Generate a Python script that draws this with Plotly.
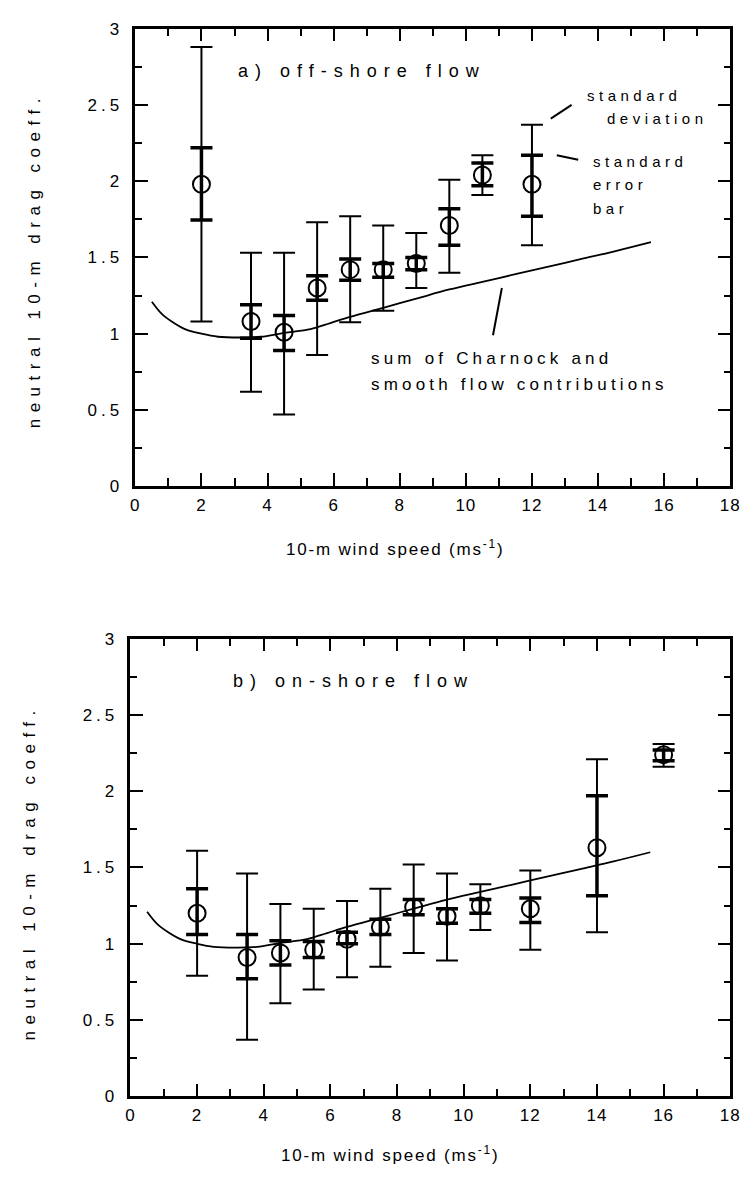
import plotly.graph_objects as go

# ---------------- data ----------------
# a) off-shore flow
u_off = [2, 3.5, 4.5, 5.5, 6.5, 7.5, 8.5, 9.5, 10.5, 12]
cd_off = [1.98, 1.08, 1.01, 1.30, 1.42, 1.42, 1.46, 1.71, 2.04, 1.98]
se_hi_off = [2.22, 1.19, 1.12, 1.38, 1.49, 1.46, 1.50, 1.82, 2.12, 2.17]
se_lo_off = [1.745, 0.97, 0.89, 1.22, 1.35, 1.37, 1.42, 1.58, 1.97, 1.77]
sd_hi_off = [2.88, 1.53, 1.53, 1.73, 1.77, 1.71, 1.66, 2.01, 2.17, 2.37]
sd_lo_off = [1.08, 0.62, 0.47, 0.86, 1.075, 1.15, 1.30, 1.40, 1.91, 1.58]

# b) on-shore flow
u_on = [2, 3.5, 4.5, 5.5, 6.5, 7.5, 8.5, 9.5, 10.5, 12, 14, 16]
cd_on = [1.20, 0.91, 0.94, 0.96, 1.03, 1.11, 1.24, 1.18, 1.25, 1.23, 1.63, 2.24]
se_hi_on = [1.36, 1.06, 1.02, 1.015, 1.075, 1.16, 1.29, 1.23, 1.29, 1.30, 1.97, 2.27]
se_lo_on = [1.06, 0.77, 0.86, 0.91, 1.00, 1.06, 1.19, 1.135, 1.20, 1.14, 1.315, 2.20]
sd_hi_on = [1.61, 1.46, 1.26, 1.23, 1.28, 1.36, 1.52, 1.46, 1.39, 1.48, 2.21, 2.31]
sd_lo_on = [0.79, 0.37, 0.61, 0.70, 0.78, 0.85, 0.94, 0.89, 1.09, 0.96, 1.075, 2.16]

# sum of Charnock and smooth flow contributions
u_curve = [0.5, 0.8, 1.1, 1.5, 2.0, 2.5, 3.2, 3.8, 4.5, 5.3, 5.9, 6.5,
           7.5, 8.5, 9.5, 10.5, 11.5, 12.5, 13.5, 14.5, 15.6]
cd_curve = [1.21, 1.13, 1.08, 1.03, 1.00, 0.98, 0.975, 0.98, 1.005, 1.03, 1.07, 1.11,
            1.17, 1.23, 1.29, 1.34, 1.39, 1.44, 1.49, 1.54, 1.60]

x_tick_vals = [0, 2, 4, 6, 8, 10, 12, 14, 16, 18]
y_tick_vals = [0, 0.5, 1, 1.5, 2, 2.5, 3]
y_tick_text = ["0", "0.5", "1", "1.5", "2", "2.5", "3"]

# ---------------- styling ----------------
W, H = 753, 1184
FONT = "Liberation Sans, Arial, Helvetica, sans-serif"


def spaced(s, px):
    return "<span style='letter-spacing:%spx'>%s</span>" % (px, s)


def px_x(p):
    return p / W


def px_y(p):
    return 1 - p / H


fig = go.Figure()


def add_panel(u, cd, se_hi, se_lo, sd_hi, sd_lo, xa, ya):
    # standard deviation bars (thin)
    fig.add_trace(go.Scatter(
        x=u, y=cd, mode="markers", xaxis=xa, yaxis=ya,
        marker=dict(size=1, color="rgba(0,0,0,0)"),
        error_y=dict(type="data", symmetric=False,
                     array=[h - c for h, c in zip(sd_hi, cd)],
                     arrayminus=[c - l for l, c in zip(sd_lo, cd)],
                     color="black", thickness=2, width=11),
        showlegend=False, hoverinfo="skip"))
    # standard error bars (bold) with the mean as an open circle
    fig.add_trace(go.Scatter(
        x=u, y=cd, mode="markers", xaxis=xa, yaxis=ya,
        marker=dict(symbol="circle-open", size=17, color="black",
                    line=dict(width=2, color="black")),
        error_y=dict(type="data", symmetric=False,
                     array=[h - c for h, c in zip(se_hi, cd)],
                     arrayminus=[c - l for l, c in zip(se_lo, cd)],
                     color="black", thickness=3.5, width=11),
        showlegend=False))
    # model curve
    fig.add_trace(go.Scatter(
        x=u_curve, y=cd_curve, mode="lines", xaxis=xa, yaxis=ya,
        line=dict(color="black", width=1.8, shape="spline"),
        showlegend=False))


add_panel(u_off, cd_off, se_hi_off, se_lo_off, sd_hi_off, sd_lo_off, "x", "y")
add_panel(u_on, cd_on, se_hi_on, se_lo_on, sd_hi_on, sd_lo_on, "x2", "y2")

xaxis_common = dict(
    range=[0, 18], tickvals=x_tick_vals,
    ticktext=[spaced(str(v), 1) for v in x_tick_vals],
    ticks="inside", ticklen=13, tickwidth=2, tickcolor="black",
    minor=dict(dtick=1, ticks="inside", ticklen=8, tickwidth=1.6, tickcolor="black"),
    showline=True, linewidth=2.5, linecolor="black", mirror="ticks",
    showgrid=False, zeroline=False, ticklabelstandoff=2,
    tickfont=dict(family=FONT, size=17, color="black"),
)
yaxis_common = dict(
    range=[0, 3], tickvals=y_tick_vals,
    ticktext=[spaced(t, 4) for t in y_tick_text],
    ticks="inside", ticklen=13, tickwidth=2, tickcolor="black",
    minor=dict(dtick=0.25, ticks="inside", ticklen=7, tickwidth=1.6, tickcolor="black"),
    showline=True, linewidth=2.5, linecolor="black", mirror="ticks",
    showgrid=False, zeroline=False, ticklabelstandoff=6,
    tickfont=dict(family=FONT, size=17, color="black"),
)

fig.update_layout(
    width=W, height=H,
    margin=dict(l=0, r=0, t=0, b=0),
    paper_bgcolor="white", plot_bgcolor="white",
    xaxis=dict(domain=[px_x(133), px_x(740)], anchor="y", **xaxis_common),
    yaxis=dict(domain=[px_y(485), px_y(20)], anchor="x", **yaxis_common),
    xaxis2=dict(domain=[px_x(128), px_x(740)], anchor="y2", **xaxis_common),
    yaxis2=dict(domain=[px_y(1105), px_y(640)], anchor="x2", **yaxis_common),
)

ann = []
# axis titles
ytitle = spaced("neutral 10-m drag coeff.", 6.5)
xtitle = spaced("10-m wind speed (ms<sup>-1</sup>)", 1.8)
for xc, yc in ((31, 255), (25, 878)):
    ann.append(dict(xref="paper", yref="paper", x=px_x(xc), y=px_y(yc),
                    xanchor="center", yanchor="middle",
                    text=ytitle, textangle=-90, showarrow=False,
                    font=dict(family=FONT, size=17, color="black")))
for xl, yc in ((285, 548), (280, 1164)):
    ann.append(dict(xref="paper", yref="paper", x=px_x(xl), y=px_y(yc),
                    xanchor="left", yanchor="middle", text=xtitle, showarrow=False,
                    font=dict(family=FONT, size=17, color="black")))

# panel labels
ann.append(dict(xref="x", yref="y", x=3.05, y=2.72, xanchor="left", yanchor="middle",
                text=spaced("a) off-shore flow", 7), showarrow=False,
                font=dict(family=FONT, size=18, color="black")))
ann.append(dict(xref="x2", yref="y2", x=3.02, y=2.72, xanchor="left", yanchor="middle",
                text=spaced("b) on-shore flow", 7), showarrow=False,
                font=dict(family=FONT, size=18, color="black")))

# key for the two kinds of bars
key_font = dict(family=FONT, size=15, color="black")
for tx, xx, yy in [("standard", 13.6, 2.56), ("deviation", 14.2, 2.41),
                   ("standard", 13.8, 2.13), ("error", 13.8, 1.98), ("bar", 13.8, 1.82)]:
    ann.append(dict(xref="x", yref="y", x=xx, y=yy, xanchor="left", yanchor="middle",
                    text=spaced(tx, 4.5), showarrow=False, font=key_font))

# curve label
for tx, yy in [("sum of Charnock and", 0.835), ("smooth flow contributions", 0.67)]:
    ann.append(dict(xref="x", yref="y", x=7.08, y=yy, xanchor="left", yanchor="middle",
                    text=spaced(tx, 4.2), showarrow=False,
                    font=dict(family=FONT, size=17, color="black")))

fig.update_layout(annotations=ann)

# leader lines
for x0, y0, x1, y1 in [(12.57, 2.41, 13.2, 2.50), (12.75, 2.17, 13.4, 2.14),
                       (11.09, 1.30, 10.82, 0.99)]:
    fig.add_shape(type="line", xref="x", yref="y", x0=x0, y0=y0, x1=x1, y1=y1,
                  line=dict(color="black", width=2))

fig.write_html("out.html")
